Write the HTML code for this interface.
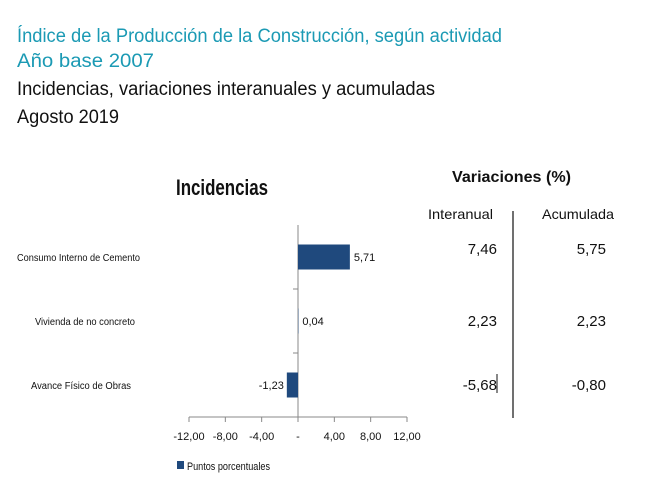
<!DOCTYPE html>
<html><head><meta charset="utf-8"><style>
body{margin:0;background:#fff;width:660px;height:501px;overflow:hidden}
svg{display:block;font-family:"Liberation Sans",Arial,sans-serif}
</style></head><body>
<svg width="660" height="501" viewBox="0 0 660 501">
<g>
<text x="17" y="42" font-size="19" fill="#1b9ab4" textLength="485" lengthAdjust="spacingAndGlyphs">Índice de la Producción de la Construcción, según actividad</text>
<text x="17" y="67" font-size="19" fill="#1b9ab4" textLength="137" lengthAdjust="spacingAndGlyphs">Año base 2007</text>
<text x="17" y="95" font-size="19" fill="#111" textLength="418" lengthAdjust="spacingAndGlyphs">Incidencias, variaciones interanuales y acumuladas</text>
<text x="17" y="123" font-size="19" fill="#111" textLength="102" lengthAdjust="spacingAndGlyphs">Agosto 2019</text>
</g>
<text x="176" y="195" font-size="22" font-weight="bold" fill="#111" textLength="92" lengthAdjust="spacingAndGlyphs">Incidencias</text>
<g id="plot"></g>
<g>
<rect x="177" y="461" width="7" height="8" fill="#1f497d"/>
<text x="187" y="470" font-size="11" fill="#111" textLength="83" lengthAdjust="spacingAndGlyphs">Puntos porcentuales</text>
</g>
<g>
<text x="452" y="182" font-size="16" font-weight="bold" fill="#111" textLength="119" lengthAdjust="spacingAndGlyphs">Variaciones (%)</text>
<text x="428" y="219" font-size="14" fill="#111" textLength="65" lengthAdjust="spacingAndGlyphs">Interanual</text>
<text x="542" y="219" font-size="14" fill="#111" textLength="72" lengthAdjust="spacingAndGlyphs">Acumulada</text>
<line x1="513" y1="211" x2="513" y2="418" stroke="#111" stroke-width="1.2"/>
<line x1="497" y1="374" x2="497" y2="393" stroke="#111" stroke-width="1"/>
<g id="tvals"></g>
</g>
</svg>
<script>
const categories=["Consumo Interno de Cemento","Vivienda de no concreto","Avance Físico de Obras"];
const incidencias=[5.71,0.04,-1.23];
const interanual=["7,46","2,23","-5,68"];
const acumulada=["5,75","2,23","-0,80"];
const tickValues=[-12,-8,-4,0,4,8,12];
const tickLabels=["-12,00","-8,00","-4,00","-","4,00","8,00","12,00"];
const NS="http://www.w3.org/2000/svg";
const plot=document.getElementById('plot');
const x0=189,x1=407,yTop=225,yBot=417,minV=-12,maxV=12;
const xs=v=>x0+(v-minV)/(maxV-minV)*(x1-x0);
const band=(yBot-yTop)/categories.length;
const yc=i=>yTop+band*(i+0.5);
function mk(t,a,txt){const e=document.createElementNS(NS,t);for(const k in a)e.setAttribute(k,a[k]);if(txt!=null)e.textContent=txt;return e;}
const fmt=v=>v.toFixed(2).replace('.',',');
// axes
let ax=mk('line',{x1:x0,y1:yBot,x2:x1,y2:yBot,stroke:'#888'});


plot.appendChild(ax);
let ay=mk('line',{x1:xs(0),y1:yTop,x2:xs(0),y2:yBot,stroke:'#888'});


plot.appendChild(ay);
tickValues.forEach((v,i)=>{
 let t=mk('line',{x1:xs(v),y1:yBot,x2:xs(v),y2:yBot+5,stroke:'#888'});
 
 
 plot.appendChild(t);
 let l=mk('text',{x:xs(v),y:yBot+23,'font-size':11,'text-anchor':'middle',fill:'#111'},tickLabels[i]);
 
 
 plot.appendChild(l);
});
for(let i=1;i<categories.length;i++){
 let t=mk('line',{x1:xs(0)-5,y1:yTop+band*i,x2:xs(0),y2:yTop+band*i,stroke:'#888'});
 
 
 plot.appendChild(t);
}
categories.forEach((c,i)=>{
 let l=mk('text',{x:140-(i?5:0)-(i==2?4:0),y:yc(i)+4,'font-size':10,'text-anchor':'end',fill:'#111',textLength:[123,100,100][i],lengthAdjust:'spacingAndGlyphs'},c);
 
 
 plot.appendChild(l);
 const v=incidencias[i];
 let b=mk('rect',{x:Math.min(xs(0),xs(v)),y:yc(i)-12.5,width:Math.abs(xs(v)-xs(0)),height:25,fill:'#1f497d'});
 
 
 plot.appendChild(b);
 let vl=mk('text',{x:v>=0?xs(v)+4:xs(v)-3,y:yc(i)+4,'font-size':11,'text-anchor':v>=0?'start':'end',fill:'#111'},fmt(v));
 
 
 plot.appendChild(vl);
});
const tv=document.getElementById('tvals');
const rowY=[254,326,390];
categories.forEach((c,i)=>{
 let a=mk('text',{x:497,y:rowY[i],'font-size':15,'text-anchor':'end',fill:'#111'},interanual[i]);
 
 
 tv.appendChild(a);
 let b=mk('text',{x:606,y:rowY[i],'font-size':15,'text-anchor':'end',fill:'#111'},acumulada[i]);
 
 
 tv.appendChild(b);
});
</script>
</body></html>
